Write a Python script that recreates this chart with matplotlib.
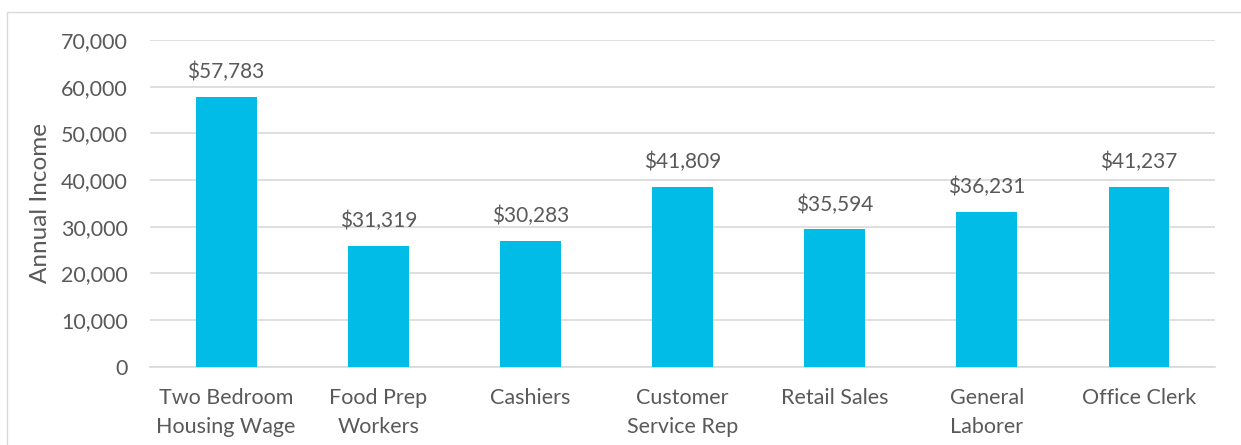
import matplotlib.pyplot as plt
from matplotlib.patches import Rectangle

# data (bar heights differ from the printed labels)
jobs = ['Two Bedroom\nHousing Wage', 'Food Prep\nWorkers', 'Cashiers',
        'Customer\nService Rep', 'Retail Sales', 'General\nLaborer', 'Office Clerk']
bar_heights = [57783, 25800, 27000, 38500, 29400, 33100, 38500]
bar_labels = ['$57,783', '$31,319', '$30,283', '$41,809', '$35,594', '$36,231', '$41,237']
yticks = [0, 10000, 20000, 30000, 40000, 50000, 60000, 70000]

grey = '#595959'
plt.rcParams['font.family'] = ['Lato', 'DejaVu Sans']

fig = plt.figure(figsize=(12.41, 4.45), dpi=100)
ax = fig.add_axes([150/1241, 1-366.7/445, (1215-150)/1241, (366.7-40)/445])

# light outer frame of the chart area
fig.patches.append(Rectangle((7/1241, -0.1), 1.2, 1-12/445+0.1, transform=fig.transFigure,
                             fill=False, edgecolor='#d9d9d9', linewidth=1))

x = range(len(jobs))
ax.bar(x, bar_heights, width=0.4, color='#00bce6', zorder=3)
for xi, h, lab in zip(x, bar_heights, bar_labels):
    ax.annotate(lab, xy=(xi, h), xytext=(0, 18), textcoords='offset points',
                ha='center', va='center', fontsize=15, color=grey)

ax.set_xlim(-0.5, len(jobs)-0.5)
ax.set_ylim(0, 70000)
ax.set_yticks(yticks)
ax.set_yticklabels([f'{v:,}' for v in yticks])
ax.set_xticks(list(x))
ax.set_xticklabels(jobs, linespacing=1.6)
ax.tick_params(length=0, labelsize=15.5, colors=grey)
ax.tick_params(axis='x', pad=15)
ax.tick_params(axis='y', pad=16)
ax.grid(axis='y', color='#d9d9d9', linewidth=1.2, zorder=0)
for s in ['top', 'right', 'left']:
    ax.spines[s].set_visible(False)
ax.spines['bottom'].set_color('#d9d9d9')
ax.spines['bottom'].set_linewidth(1.2)
ax.set_ylabel('Annual Income', fontsize=17.5, color=grey, labelpad=7)

plt.savefig('out.png', dpi=100)
